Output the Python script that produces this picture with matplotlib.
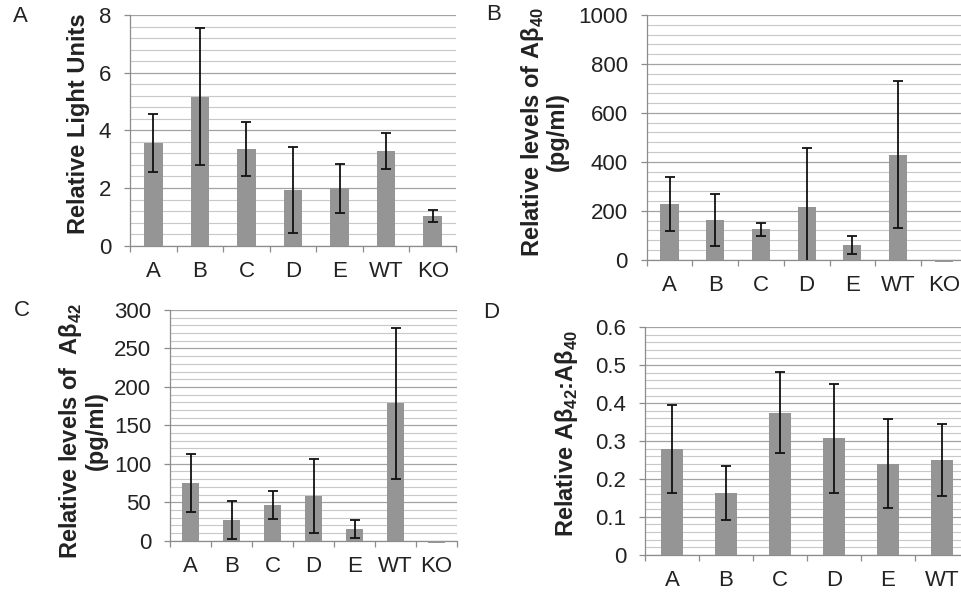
import numpy as np
import matplotlib
matplotlib.use("Agg")
import matplotlib.pyplot as plt

plt.rcParams['font.family'] = ['Liberation Sans', 'DejaVu Sans']
plt.rcParams['mathtext.fontset'] = 'custom'
plt.rcParams['mathtext.rm'] = 'Liberation Sans'
plt.rcParams['mathtext.bf'] = 'Liberation Sans:bold'

# panel A - luciferase
cats_a = ["A", "B", "C", "D", "E", "WT", "KO"]
rlu = [3.57, 5.17, 3.35, 1.93, 1.99, 3.28, 1.03]
rlu_err = [1.0, 2.37, 0.94, 1.48, 0.86, 0.63, 0.22]

# panel B - Abeta40
ab40 = [226, 162, 124, 214, 61, 429, -10]
ab40_err = [110, 106, 27, 244, 37, 301, np.nan]

# panel C - Abeta42
ab42 = [74.6, 27, 46, 58, 15.6, 178.6, -3]
ab42_err = [37.5, 25, 18, 48, 11.7, 98, np.nan]

# panel D - ratio
cats_d = ["A", "B", "C", "D", "E", "WT"]
ratio = [0.279, 0.163, 0.375, 0.307, 0.240, 0.250]
ratio_err = [0.117, 0.072, 0.107, 0.144, 0.118, 0.094]

yt_a = ["0", "2", "4", "6", "8"]
yt_b = ["0", "200", "400", "600", "800", "1000"]
yt_c = ["0", "50", "100", "150", "200", "250", "300"]
yt_d = ["0", "0.1", "0.2", "0.3", "0.4", "0.5", "0.6"]

BAR = "#959595"
TXT = "#222222"
AXC = "#8c8c8c"

W, H = 961, 596
fig = plt.figure(figsize=(W / 100, H / 100), dpi=100)


def px_axes(l, r, t, b):
    return fig.add_axes([l / W, 1 - b / H, (r - l) / W, (b - t) / H])


def panel(ax, cats, vals, errs, ymax, ystep, minor_step, ylabels):
    x = np.arange(len(cats))
    ax.bar(x, vals, width=0.4, color=BAR, zorder=3, clip_on=False)
    ax.errorbar(x, vals, yerr=errs, fmt='none', ecolor='#111111',
                elinewidth=1.3, capsize=3.5, capthick=1.3, zorder=4)
    ax.set_xlim(-0.5, len(cats) - 0.5)
    ax.set_ylim(0, ymax)
    ticks = np.arange(len(ylabels)) * ystep
    ax.set_yticks(ticks, ylabels)
    ax.set_yticks(np.arange(0, ymax + minor_step / 2, minor_step), minor=True)
    ax.yaxis.grid(True, which='major', color='#a3a3a3', lw=0.9, zorder=0)
    ax.yaxis.grid(True, which='minor', color='#c8c8c8', lw=0.8, zorder=0)
    ax.set_axisbelow(True)
    ax.tick_params(axis='y', which='major', length=4.5, width=0.9, color=AXC,
                   pad=9, labelsize=16, labelcolor=TXT)
    ax.tick_params(axis='y', which='minor', length=0)
    # category separators as major ticks, names on minor ticks
    ax.set_xticks(np.arange(len(cats) + 1) - 0.5, [""] * (len(cats) + 1))
    ax.set_xticks(x, cats, minor=True)
    ax.tick_params(axis='x', which='major', length=4.5, width=0.9, color=AXC)
    ax.tick_params(axis='x', which='minor', length=0, pad=11, labelsize=16,
                   labelcolor=TXT)
    for s in ['top', 'right']:
        ax.spines[s].set_visible(False)
    for s in ['left', 'bottom']:
        ax.spines[s].set_color(AXC)
        ax.spines[s].set_linewidth(0.9)


axA = px_axes(130, 456, 15, 245.7)
panel(axA, cats_a, rlu, rlu_err, 8, 2, 0.4, yt_a)

axB = px_axes(646.7, 966.6, 15, 259.7)
panel(axB, cats_a, ab40, ab40_err, 1000, 200, 40, yt_b)

axC = px_axes(170, 457, 310, 540.7)
panel(axC, cats_a, ab42, ab42_err, 300, 50, 10, yt_c)

axD = px_axes(645, 969, 327.3, 554.7)
panel(axD, cats_d, ratio, ratio_err, 0.6, 0.1, 0.02, yt_d)

# y labels
lab = dict(rotation=90, ha='center', va='center', fontsize=17,
           fontweight='bold', color=TXT, linespacing=1.0)
fig.text(78 / W, 1 - 124 / H, "Relative Light Units", **lab)
fig.text(543.5 / W, 1 - 132 / H,
         "Relative levels of A\u03b2$_{\\mathbf{40}}$\n(pg/ml)", **lab)
fig.text(82.5 / W, 1 - 431 / H,
         "Relative levels of  A\u03b2$_{\\mathbf{42}}$\n(pg/ml)", **lab)
fig.text(566 / W, 1 - 433 / H,
         "Relative A\u03b2$_{\\mathbf{42}}$:A\u03b2$_{\\mathbf{40}}$", **lab)

# panel letters
for letter, (px, py) in zip("ABCD", [(20, 16), (494, 15), (22, 310), (491, 312)]):
    fig.text(px / W, 1 - py / H, letter, ha='center', va='center',
             fontsize=16, color=TXT)

fig.savefig("out.png", dpi=100)
